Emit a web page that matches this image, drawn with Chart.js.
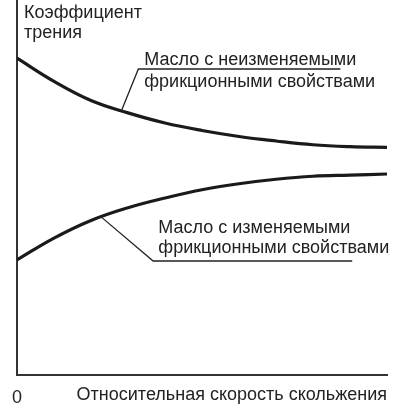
<!DOCTYPE html>
<html>
<head>
<meta charset="utf-8">
<script src="https://cdn.jsdelivr.net/npm/chart.js@4"></script>
<style>
  html, body { margin: 0; padding: 0; background: #fff; }
  #wrap { width: 400px; height: 409px; }
</style>
</head>
<body>
<div id="wrap"><canvas id="grafico"></canvas></div>
<script>
// skorost' skolzheniya (otnositel'naya, 0..100) i koefficient treniya (usl. edinicy)
const skorost = [0, 10, 20, 30, 40, 50, 60, 70, 80, 90, 100];
const neizmenyaemye = [84.5, 78.3, 73.2, 69.9, 67.2, 65.2, 63.6, 62.4, 61.4, 60.9, 60.7];
const izmenyaemye = [30.7, 36.5, 41.2, 44.6, 47.2, 49.4, 51.0, 52.2, 53.0, 53.3, 53.6];
const tickLabels = ['0'];

const tekstY = ['Коэффициент', 'трения'];
const tekstX = 'Относительная скорость скольжения';
const podpis1 = ['Масло с неизменяемыми', 'фрикционными свойствами'];
const podpis2 = ['Масло с изменяемыми', 'фрикционными свойствами'];

const SEMEYSTVO = '"Liberation Sans", Arial, sans-serif';
const SHRIFT = '18px ' + SEMEYSTVO;
const CVET = '#222';

function tochki(ys) {
    return skorost.map((x, i) => ({ x: x, y: ys[i] }));
}

// vynoski: tochka na krivoy -> izlom -> konec linii, tekst v koordinatah dannyh
const vynoski = [
    { ot: [28.2, 70.4], izlom: [32.8, 81.6], konec: 87.4, tx: 34.4, ty: [82.7, 76.8], stroki: podpis1 },
    { ot: [22.8, 42.1], izlom: [36.8, 30.4], konec: 90.6, tx: 38.2, ty: [37.9, 32.5], stroki: podpis2 }
];

const podpisiPlugin = {
    id: 'podpisi',
    afterDatasetsDraw(chart) {
        const ctx = chart.ctx;
        const sx = chart.scales.x, sy = chart.scales.y;
        ctx.save();
        ctx.font = SHRIFT;
        ctx.fillStyle = CVET;
        ctx.textBaseline = 'alphabetic';
        ctx.textAlign = 'left';
        // nazvanie osi Y
        ctx.fillText(tekstY[0], sx.getPixelForValue(1.9), sy.getPixelForValue(95.2));
        ctx.fillText(tekstY[1], sx.getPixelForValue(1.9), sy.getPixelForValue(89.9));

        ctx.strokeStyle = CVET;
        ctx.lineWidth = 1.3;
        vynoski.forEach(v => {
            ctx.beginPath();
            ctx.moveTo(sx.getPixelForValue(v.ot[0]), sy.getPixelForValue(v.ot[1]));
            ctx.lineTo(sx.getPixelForValue(v.izlom[0]), sy.getPixelForValue(v.izlom[1]));
            ctx.lineTo(sx.getPixelForValue(v.konec), sy.getPixelForValue(v.izlom[1]));
            ctx.stroke();
            v.stroki.forEach((s, i) => {
                ctx.fillText(s, sx.getPixelForValue(v.tx), sy.getPixelForValue(v.ty[i]));
            });
        });
        ctx.restore();
    }
};

let ctx = document.getElementById('grafico');
const data = {
    datasets: [
        {
            label: podpis1.join(' '),
            data: tochki(neizmenyaemye),
            borderColor: '#1a1a1a',
            borderWidth: 3.2,
            pointRadius: 0,
            tension: 0.4,
            fill: false
        },
        {
            label: podpis2.join(' '),
            data: tochki(izmenyaemye),
            borderColor: '#1a1a1a',
            borderWidth: 3.2,
            pointRadius: 0,
            tension: 0.4,
            fill: false
        }
    ]
};
const config = {
    type: 'line',
    data: data,
    options: {
        responsive: true,
        maintainAspectRatio: false,
        animation: false,
        layout: { padding: { left: 0, right: 13, top: 0, bottom: 0 } },
        plugins: {
            legend: { display: false },
            tooltip: { enabled: false }
        },
        scales: {
            x: {
                type: 'linear',
                min: 0,
                max: 100,
                grid: { display: false, drawTicks: false },
                border: { display: true, color: '#333', width: 2 },
                ticks: {
                    stepSize: 100,
                    padding: 12,
                    color: CVET,
                    font: { family: SEMEYSTVO, size: 18 },
                    callback: (v) => (v === 0 ? tickLabels[0] : '')
                },
                title: {
                    display: true,
                    text: tekstX,
                    align: 'end',
                    color: CVET,
                    padding: { top: 0, bottom: 3 },
                    font: { family: SEMEYSTVO, size: 18 }
                },
                afterFit: (scale) => { scale.height = 34; }
            },
            y: {
                min: 0,
                max: 100,
                grid: { display: false, drawTicks: false },
                border: { display: true, color: '#333', width: 2 },
                ticks: { display: false },
                afterFit: (scale) => { scale.width = 15; }
            }
        }
    },
    plugins: [podpisiPlugin]
};
new Chart(ctx, config);
</script>
</body>
</html>
